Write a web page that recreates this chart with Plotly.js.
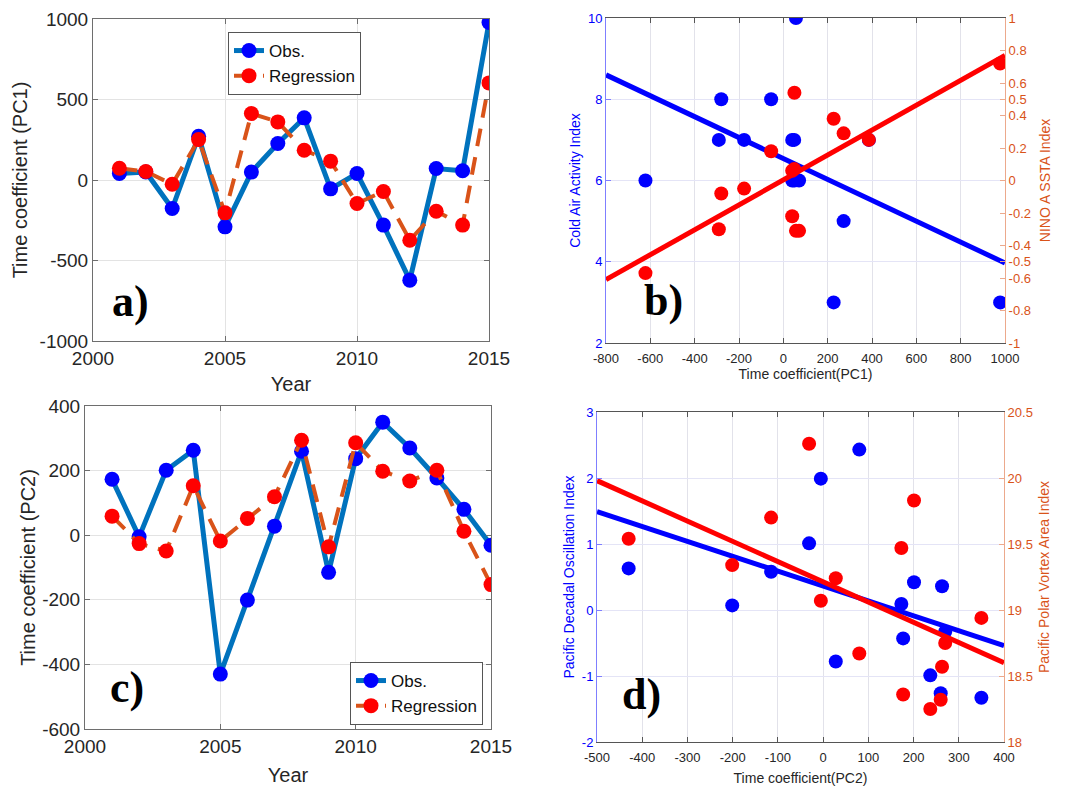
<!DOCTYPE html>
<html><head><meta charset="utf-8">
<script src="https://cdn.plot.ly/plotly-3.0.1.min.js"></script>
<style>html,body{margin:0;padding:0;background:#fff}#chart{width:1077px;height:786px}</style>
</head><body><div id="chart"></div>
<script>
// ---- data ----
const years = [2001,2002,2003,2004,2005,2006,2007,2008,2009,2010,2011,2012,2013,2014,2015];
const pc1Obs = [40,50,-177,272,-291,49,227,386,-55,40,-280,-622,71,57,978];
const pc1Reg = [73,53,-26,251,-204,413,361,185,117,-146,-71,-374,-194,-280,603];
const pc2Obs = [173,-5,201,263,-430,-201,28,260,-115,237,350,270,177,80,-31];
const pc2Reg = [59,-26,-49,153,-18,52,119,294,-36,286,198,168,201,12,-153];
const coldAirIndex = [7,6,7,5,7,7,3,7,8,6,8,6,6,10,3];
const ninoSSTA = [-0.22,0.54,-0.05,0.29,-0.30,0.07,0.38,0.25,0.18,0.06,-0.08,-0.57,-0.31,-0.31,0.72];
const pdoIndex = [0.09,1.99,0.42,0.36,0.63,0.07,-0.78,-1.26,0.58,-0.99,-1.33,-0.33,-0.43,2.43,1.01];
const ppvaIndex = [19.47,19.07,19.83,18.57,19.54,19.34,19.24,18.32,19.70,18.25,18.94,18.75,18.36,18.67,20.26];
const fitPC1 = [-800,1000];
const fitColdAir = [8.6,3.97];
const fitNino = [-0.61,0.77];
const fitPC2 = [-500,400];
const fitPDO = [1.49,-0.54];
const fitPPVA = [19.98,18.60];
const legendNames = ['Obs.','Regression'];
const panelLabels = ['a)','b)','c)','d)'];
// tick labels
const yearTicks = [2000,2005,2010,2015];
const pc1YTicks = [-1000,-500,0,500,1000];
const pc2YTicks = [-600,-400,-200,0,200,400];
const pc1XTicks = [-800,-600,-400,-200,0,200,400,600,800,1000];
const coldAirTicks = [2,4,6,8,10];
const ninoTicks = [-1,-0.8,-0.6,-0.5,-0.4,-0.2,0,0.2,0.4,0.5,0.6,0.8,1];
const pc2XTicks = [-500,-400,-300,-200,-100,0,100,200,300,400];
const pdoTicks = [-2,-1,0,1,2,3];
const ppvaTicks = [18,18.5,19,19.5,20,20.5];

// ---- style ----
const FONT = 'Liberation Sans, Arial, sans-serif';
const OBS_LINE = '#0072BD', OBS_MK = '#0000FF', REG_LINE = '#D95319', REG_MK = '#FF0000';
const BLUE = '#0000FF', ORANGE = '#D95319';
const W = 1077, H = 786;
const px = v => v / W, py = v => 1 - v / H;
const tk = vals => ({tickmode: 'array', tickvals: vals, ticktext: vals.map(v => String(v))});

function tsTraces(xa, ya, obs, reg, leg) {
  return [
    {x: years, y: obs, xaxis: xa, yaxis: ya, type: 'scatter', mode: 'lines+markers', name: legendNames[0], legend: leg,
     line: {color: OBS_LINE, width: 5}, marker: {color: OBS_MK, size: 15}},
    {x: years, y: reg, xaxis: xa, yaxis: ya, type: 'scatter', mode: 'lines+markers', name: legendNames[1], legend: leg,
     line: {color: REG_LINE, width: 4, dash: '18px,11px'}, marker: {color: REG_MK, size: 15}}
  ];
}
function scTraces(xa, yl, yr, xs, ysL, ysR, fx, fyL, fyR) {
  return [
    {x: xs, y: ysL, xaxis: xa, yaxis: yl, type: 'scatter', mode: 'markers', showlegend: false, marker: {color: BLUE, size: 14}},
    {x: fx, y: fyL, xaxis: xa, yaxis: yl, type: 'scatter', mode: 'lines', showlegend: false, line: {color: BLUE, width: 5}},
    {x: xs, y: ysR, xaxis: xa, yaxis: yr, type: 'scatter', mode: 'markers', showlegend: false, marker: {color: REG_MK, size: 14}},
    {x: fx, y: fyR, xaxis: xa, yaxis: yr, type: 'scatter', mode: 'lines', showlegend: false, line: {color: REG_MK, width: 5}}
  ];
}

const data = [
  ...tsTraces('x', 'y', pc1Obs, pc1Reg, 'legend'),
  ...scTraces('x2', 'y2', 'y3', pc1Obs, coldAirIndex, ninoSSTA, fitPC1, fitColdAir, fitNino),
  ...tsTraces('x3', 'y4', pc2Obs, pc2Reg, 'legend2'),
  ...scTraces('x4', 'y5', 'y6', pc2Obs, pdoIndex, ppvaIndex, fitPC2, fitPDO, fitPPVA)
];

const bigTick = {family: FONT, size: 19, color: '#262626'};
const bigTitle = {family: FONT, size: 20, color: '#262626'};
function withTitle(ax, text, font, standoff) {
  ax.title = {text: text, font: font};
  if (standoff !== undefined) { ax.title.standoff = standoff; }
  ax.automargin = false;
  return ax;
}
function tsX(dom, anchor, standoff) {
  return withTitle(Object.assign({domain: dom, anchor: anchor, range: [2000, 2015],
    showgrid: true, gridcolor: '#e3e3e3', gridwidth: 1, zeroline: false, showline: true, linecolor: '#6e6e6e', linewidth: 1,
    mirror: 'ticks', ticks: 'inside', ticklen: 5, tickcolor: '#6e6e6e', tickfont: bigTick}, tk(yearTicks)),
    'Year', bigTitle, standoff);
}
function tsY(dom, anchor, range, ticks, title, standoff) {
  return withTitle(Object.assign({domain: dom, anchor: anchor, range: range,
    showgrid: true, gridcolor: '#e3e3e3', zeroline: false, showline: true, linecolor: '#6e6e6e', linewidth: 1,
    mirror: 'ticks', ticks: 'inside', ticklen: 5, tickcolor: '#6e6e6e', tickfont: bigTick}, tk(ticks)),
    title, bigTitle, standoff);
}
const smTick = {family: FONT, size: 13, color: '#262626'};
function scX(dom, anchor, range, ticks, title, standoff) {
  return withTitle(Object.assign({domain: dom, anchor: anchor, range: range,
    showgrid: true, gridcolor: '#e2e2ea', zeroline: false, showline: true, linecolor: '#555', linewidth: 1,
    mirror: 'ticks', ticks: 'inside', ticklen: 5, tickcolor: '#555', tickfont: smTick, ticklabelstandoff: 3}, tk(ticks)),
    title, {family: FONT, size: 14, color: '#262626'}, standoff);
}
function scYL(dom, anchor, range, ticks, title, standoff) {
  return withTitle(Object.assign({domain: dom, anchor: anchor, range: range,
    showgrid: true, gridcolor: '#e4e4f6', zeroline: false, showline: true, linecolor: '#7f7fff', linewidth: 1,
    ticks: 'inside', ticklen: 5, tickcolor: '#7f7fff', tickfont: {family: FONT, size: 13, color: BLUE}}, tk(ticks)),
    title, {family: FONT, size: 14, color: BLUE}, standoff);
}
function scYR(over, anchor, range, ticks, title, standoff) {
  return withTitle(Object.assign({overlaying: over, anchor: anchor, side: 'right', range: range,
    showgrid: false, zeroline: false, showline: true, linecolor: '#eca98c', linewidth: 1,
    ticks: 'inside', ticklen: 5, tickcolor: '#eca98c', tickfont: {family: FONT, size: 13, color: ORANGE}}, tk(ticks)),
    title, {family: FONT, size: 14, color: ORANGE}, standoff);
}

const domA = {x: [px(93), px(489)], y: [py(341), py(19)]};
const domB = {x: [px(606), px(1005)], y: [py(343), py(18)]};
const domC = {x: [px(85), px(491)], y: [py(729), py(406)]};
const domD = {x: [px(597), px(1004)], y: [py(742), py(412)]};

const legendStyle = (x, y) => ({x: x, y: y, xanchor: 'left', yanchor: 'top', bgcolor: '#ffffff',
  bordercolor: '#555', borderwidth: 1, font: {family: FONT, size: 17, color: '#111'}, itemwidth: 30, tracegroupgap: 0});

const labelFont = {family: 'Liberation Serif, Times New Roman, serif', size: 44, color: '#000', weight: 'bold'};
const labelPos = [[130, 302], [663, 301], [127, 687], [641, 694]];
const annotations = panelLabels.map((t, i) => ({text: '<b>' + t + '</b>', xref: 'paper', yref: 'paper',
  x: px(labelPos[i][0]), y: py(labelPos[i][1]), xanchor: 'center', yanchor: 'middle', showarrow: false, font: labelFont}));

const layout = {
  width: W, height: H, margin: {l: 0, r: 0, t: 0, b: 0}, paper_bgcolor: '#fff', plot_bgcolor: '#fff',
  font: {family: FONT},
  xaxis: tsX(domA.x, 'y', 9),
  yaxis: tsY(domA.y, 'x', [-1000, 1000], pc1YTicks, 'Time coefficient (PC1)', 6),
  xaxis2: scX(domB.x, 'y2', [-800, 1000], pc1XTicks, 'Time coefficient(PC1)', 3),
  yaxis2: scYL(domB.y, 'x2', [2, 10], coldAirTicks, 'Cold Air Activity Index', 4),
  yaxis3: scYR('y2', 'x2', [-1, 1], ninoTicks, 'NINO A SSTA Index'),
  xaxis3: tsX(domC.x, 'y4'),
  yaxis4: tsY(domC.y, 'x3', [-600, 400], pc2YTicks, 'Time coefficient (PC2)'),
  xaxis4: scX(domD.x, 'y5', [-500, 400], pc2XTicks, 'Time coefficient(PC2)'),
  yaxis5: scYL(domD.y, 'x4', [-2, 3], pdoTicks, 'Pacific Decadal Oscillation Index', 3),
  yaxis6: scYR('y5', 'x4', [18, 20.5], ppvaTicks, 'Pacific Polar Vortex Area Index'),
  legend: legendStyle(px(228), py(32)),
  legend2: legendStyle(px(350), py(662)),
  annotations: annotations
};

Plotly.newPlot('chart', data, layout, {displayModeBar: false, staticPlot: true});
</script>
</body></html>
